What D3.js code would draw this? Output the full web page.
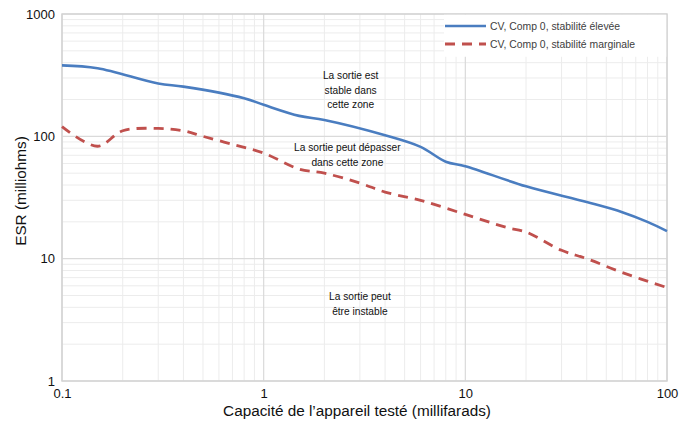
<!DOCTYPE html>
<html>
<head>
<meta charset="utf-8">
<script src="https://cdn.jsdelivr.net/npm/d3@7"></script>
<style>
  html, body { margin: 0; padding: 0; background: #fff; }
  svg { display: block; font-family: "Liberation Sans", Arial, sans-serif; }
</style>
</head>
<body>
<svg id="chart" width="687" height="428"></svg>
<script>
// ESR vs. capacitance (log-log), two stability boundaries
const capHigh = [0.1, 0.15, 0.3, 0.4, 0.8, 1, 1.5, 2, 4, 6, 8, 10, 20, 40, 60, 80, 100];
const esrHigh = [380, 360, 270, 255, 205, 181, 147, 136, 102, 82, 62, 57, 39, 29, 24, 20, 16.8];

const capMarginal = [0.1, 0.15, 0.2, 0.3, 0.4, 0.5, 0.7, 1, 1.5, 2, 3, 4, 6, 10, 16, 20, 30, 40, 60, 100];
const esrMarginal = [120, 83, 111, 116, 111, 100, 86, 73, 54, 50, 41.5, 35, 30, 23, 18, 16.5, 11.7, 10, 7.7, 5.8];

const seriesNames = ["CV, Comp 0, stabilité élevée", "CV, Comp 0, stabilité marginale"];
const xTicks = [0.1, 1, 10, 100];
const yTicks = [1, 10, 100, 1000];
const xTitle = "Capacité de l’appareil testé (millifarads)";
const yTitle = "ESR (milliohms)";
// zone notes: anchor (capacitance, ESR) for the first line's baseline
const zoneNotes = [
  { x: 2.7, y: 294, lines: ["La sortie est", "stable dans", "cette zone"] },
  { x: 2.6, y: 76, lines: ["La sortie peut dépasser", "dans cette zone"] },
  { x: 3.0, y: 4.6, lines: ["La sortie peut", "être instable"] }
];

const svg = d3.select("#chart");
const plotL = 62, plotR = 667, plotT = 14, plotB = 381;

const x = d3.scaleLog().domain([0.1, 100]).range([plotL, plotR]);
const y = d3.scaleLog().domain([1, 1000]).range([plotB, plotT]);

// minor and major gridlines
const minorVals = (lo, hi) => {
  const out = [];
  for (let d = lo; d < hi; d *= 10) for (let k = 2; k <= 9; k++) out.push(d * k);
  return out;
};
const grid = svg.append("g");
grid.selectAll(".vx").data(minorVals(0.1, 100)).join("line")
  .attr("x1", d => x(d)).attr("x2", d => x(d)).attr("y1", plotT).attr("y2", plotB)
  .attr("stroke", "#ececec").attr("stroke-width", 1);
grid.selectAll(".hy").data(minorVals(1, 1000)).join("line")
  .attr("x1", plotL).attr("x2", plotR).attr("y1", d => y(d)).attr("y2", d => y(d))
  .attr("stroke", "#ececec").attr("stroke-width", 1);
grid.selectAll(".vX").data(xTicks).join("line")
  .attr("x1", d => x(d)).attr("x2", d => x(d)).attr("y1", plotT).attr("y2", plotB)
  .attr("stroke", "#dadada").attr("stroke-width", 1.2);
grid.selectAll(".hY").data(yTicks).join("line")
  .attr("x1", plotL).attr("x2", plotR).attr("y1", d => y(d)).attr("y2", d => y(d))
  .attr("stroke", "#dadada").attr("stroke-width", 1.2);

// plot frame
svg.append("rect").attr("x", plotL).attr("y", plotT)
  .attr("width", plotR - plotL).attr("height", plotB - plotT)
  .attr("fill", "none").attr("stroke", "#d4d4d4").attr("stroke-width", 1.5);

// axes (labels only)
const xAxis = d3.axisBottom(x).tickValues(xTicks).tickFormat(d => String(d)).tickSize(0).tickPadding(8);
const yAxis = d3.axisLeft(y).tickValues(yTicks).tickFormat(d => String(d)).tickSize(0).tickPadding(7);
const gx = svg.append("g").attr("transform", `translate(0,${plotB})`).call(xAxis);
const gy = svg.append("g").attr("transform", `translate(${plotL},0)`).call(yAxis);
[gx, gy].forEach(g => {
  g.select(".domain").remove();
  g.selectAll("text").attr("font-size", 13).attr("fill", "#111")
    .attr("font-family", "Liberation Sans, Arial, sans-serif");
});

// axis titles
svg.append("text").attr("x", 357).attr("y", 416).attr("text-anchor", "middle")
  .attr("font-size", 15.3).attr("fill", "#111").text(xTitle);
svg.append("text").attr("transform", "translate(26,191) rotate(-90)").attr("text-anchor", "middle")
  .attr("font-size", 15.3).attr("fill", "#111").text(yTitle);

// zone annotations
zoneNotes.forEach(n => {
  const t = svg.append("text").attr("text-anchor", "middle").attr("font-size", 10.2).attr("fill", "#111");
  n.lines.forEach((s, i) => {
    t.append("tspan").attr("x", x(n.x)).attr("y", y(n.y) + i * 14.6).text(s);
  });
});

// series lines
const line = d3.line().x(d => x(d[0])).y(d => y(d[1])).curve(d3.curveCatmullRom.alpha(0.5));
const highData = capHigh.map((c, i) => [c, esrHigh[i]]);
const margData = capMarginal.map((c, i) => [c, esrMarginal[i]]);

svg.append("path").datum(highData).attr("d", line)
  .attr("fill", "none").attr("stroke", "#4a7dc0").attr("stroke-width", 2.6);
svg.append("path").datum(margData).attr("d", line)
  .attr("fill", "none").attr("stroke", "#c0504d").attr("stroke-width", 2.8)
  .attr("stroke-dasharray", "10,7");

// legend
const lg = svg.append("g");
lg.append("rect").attr("x", 444).attr("y", plotT + 0.75).attr("width", plotR - 444 - 0.75).attr("height", 42)
  .attr("fill", "#fff");
const styles = [
  { stroke: "#4a7dc0", dash: null, w: 2.6 },
  { stroke: "#c0504d", dash: "10,7", w: 2.8 }
];
seriesNames.forEach((name, i) => {
  const yy = 26 + i * 18;
  lg.append("line").attr("x1", 445).attr("x2", 486).attr("y1", yy).attr("y2", yy)
    .attr("stroke", styles[i].stroke).attr("stroke-width", styles[i].w)
    .attr("stroke-dasharray", styles[i].dash);
  lg.append("text").attr("x", 490).attr("y", yy + 3.6).attr("font-size", 10.4)
    .attr("fill", "#404040").text(name);
});
</script>
</body>
</html>
